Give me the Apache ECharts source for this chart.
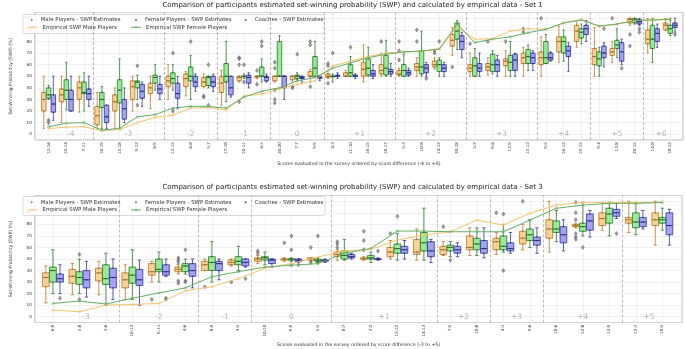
<!DOCTYPE html>
<html>
<head>
<meta charset="utf-8">
<script src="https://cdn.jsdelivr.net/npm/echarts@6/dist/echarts.min.js"></script>
<style>
  html, body { margin: 0; padding: 0; background: #fff; }
  #chart { width: 685px; height: 349px; }
</style>
</head>
<body>
<div id="chart"></div>
<script>
// ---------- Set 1 ----------
const cats1 = ['12:16','10:14','7:11','16:19','15:18','9:12','6:9','13:15','6:8','5:7','17:18','10:11','4:5',
  '20:20','7:7','9:9','4:3','11:10','16:15','18:17','5:3','10:8','14:12','20:18','5:2','9:6','12:9','15:12',
  '9:5','16:12','19:15','9:4','13:8','20:15','14:8','18:12'];
const groups1 = ['-4','-3','-2','-1','0','+1','+2','+3','+4','+5','+6'];
const groupSizes1 = [3,4,3,3,3,4,4,4,3,3,2];

// box statistics: [whisker low, Q1, median, Q3, whisker high]
const male1 = [[5,20,30,36,50],[10,28,34,39,50],[19,30,40,45,50],[4,8,16,24,36],[5,20,28,34,40],[20,30,41,46,50],
  [22,35,40,44,50],[30,41,46,50,60],[33,41,48,52,54],[41,41,45,49,52],[25,36,44,50,55],[45,46,49,50,50],
  [48,49,50,50,50],[45,46,50,50,50],[45,47,50,50,50],[45,50,50,54,56],[48,49,50,52,55],[50,50,50,53,55],
  [45,50,56,62,77],[50,52,55,60,70],[50,51,52,55,57],[50,55,58,61,66],[56,58,60,63,66],[68,76,81,86,92],
  [50,54,57,60,70],[51,55,58,61,66],[50,59,63,65,72],[50,61,66,70,75],[50,60,66,71,84],[62,71,80,84,93],
  [75,80,89,94,98],[50,60,67,74,92],[62,68,71,74,80],[94,96,99,100,100],[70,78,82,90,100],[90,90,94,96,100]];
const maleOut1 = [[],[],[],[],[],[],[],[],[],[32,33],[],[66,65,60,28],[55,43],[62,57,38,30,27],[41,40],[80,77,41],
  [61,59,44],[],[],[80],[80,72,64],[90,80],[72,70],[58],[78],[80],[80],[91,88],[100],[],[],[],[100],[86,76],[],[]];
const female1 = [[30,31,34,40,42],[21,30,38,47,62],[20,35,36,45,53],[5,23,30,36,41],[5,27,38,47,65],[30,40,45,46,51],
  [38,44,49,51,60],[38,44,48,53,60],[30,46,50,58,68],[40,42,49,50,50],[28,45,50,61,80],[48,50,50,50,52],
  [45,50,50,58,65],[50,50,50,80,85],[47,48,50,51,53],[50,50,57,67,80],[45,50,50,50,52],[50,50,53,60,67],
  [50,51,57,65,75],[50,51,57,68,81],[50,50,55,60,69],[50,52,58,72,89],[50,54,60,64,66],[73,82,89,96,98],
  [50,50,59,66,74],[52,54,60,69,72],[50,55,62,68,80],[55,61,67,73,77],[61,61,66,80,86],[63,70,80,84,90],
  [78,83,88,91,95],[50,59,65,71,75],[66,74,77,81,91],[95,96,99,100,100],[62,74,82,94,100],[85,87,91,94,100]];
const femaleOut1 = [[12,10],[],[],[],[],[59,25],[],[70,20],[80],[60,25],[],[60,45],[80,76],[],[69],[],[70],[75],
  [],[],[],[],[80],[],[],[],[],[],[],[],[],[],[],[],[],[]];
const coach1 = [[12,19,26,34,50],[20,20,30,38,50],[24,30,35,39,50],[5,10,15,25,25],[10,13,22,30,40],[24,31,37,43,45],
  [30,35,39,43,50],[22,31,35,44,50],[37,41,45,50,52],[37,41,45,50,52],[32,34,40,50,50],[40,44,49,51,53],
  [45,46,49,50,52],[30,40,50,50,50],[45,48,49,50,50],[46,48,49,50,50],[48,50,50,51,53],[48,50,50,51,52],
  [48,50,52,55,60],[50,52,54,56,61],[50,51,53,55,57],[50,53,57,60,62],[50,54,57,60,62],[66,73,80,85,88],
  [50,54,57,61,70],[50,54,60,64,68],[50,55,64,69,70],[55,61,66,70,72],[63,64,66,70,71],[54,67,72,76,79],
  [80,86,91,94,98],[58,66,70,76,79],[60,63,71,79,82],[94,95,97,99,100],[75,80,87,91,95],[88,92,94,96,100]];
const coachOut1 = [[],[],[],[],[],[],[],[],[],[],[],[],[],[],[],[],[],[],[],[],[],[48],[],[],[],[],[],[],[],[],[],
  [91],[57],[91,88],[],[86]];
const empMale1 = [5,6,6.5,3,4,10,14.5,16.5,22.5,23,21,33,34.5,39,43,46,59,63,67,70,71,71.7,73,93,
  82,82.4,89,91,90.5,96,99,92.8,95,98,99,99];
const empFemale1 = [6.5,9.5,10,3.5,5,15,17,22.5,24,24,22.5,32,37,40,46,49,57,61.5,66,69,71,71.7,73.7,95,
  79,82,84,87.6,90.5,96,98.5,93.4,95,98,98.5,99];

// ---------- Set 3 ----------
const cats3 = ['6:9','5:8','3:6','10:12','9:11','4:6','8:9','4:5','10:10','9:9','5:5','8:7','3:2','13:12','14:13',
  '7:5','10:8','4:1','9:6','10:6','12:8','13:9','12:7','10:5'];
const groups3 = ['-3','-2','-1','0','+1','+2','+3','+4','+5'];
const groupSizes3 = [3,3,2,3,4,2,2,3,2];

const male3 = [[12,26,34,38,44],[19,29,35,41,46],[19,31,38,42,48],[15,25,32,38,45],[30,36,39,46,48],[37,39,41,43,45],
  [40,40,45,48,50],[44,45,47,49,50],[46,48,50,51,53],[48,49,50,50,51],[48,49,50,51,51],[49,52,54,56,58],
  [49,50,50,51,52],[50,52,56,60,66],[49,54,56,67,76],[53,54,58,61,65],[53,58,60,70,77],[54,58,65,68,73],
  [58,63,68,74,80],[56,68,76,84,100],[77,78,79,80,81],[75,79,85,90,99],[73,81,84,86,100],[62,79,84,90,100]];
const maleOut3 = [[],[],[],[],[15],[51,49,47,31,29],[26],[30],[57,55],[64],[60,47],[65,63,60],[74,66,58],[72],[],
  [78],[],[90],[100],[],[99,90,84,72,69,67],[],[],[]];
const female3 = [[20,30,40,43,58],[20,28,34,39,50],[10,28,33,45,55],[15,29,36,43,58],[30,39,41,50,56],[37,39,44,46,50],
  [30,40,47,52,65],[40,45,48,52,61],[45,49,51,52,56],[48,49,50,50,51],[47,48,49,50,51],[49,50,53,57,67],
  [47,50,51,53,56],[49,55,59,63,72],[49,57,64,73,94],[52,57,60,62,65],[53,58,63,68,77],[56,58,61,70,80],
  [60,66,71,76,84],[65,73,76,83,92],[70,74,78,81,99],[70,81,89,94,99],[71,77,82,90,98],[75,81,84,86,94]];
const femaleOut3 = [[],[54,15],[],[],[],[58,31,30],[],[],[],[70,58,45],[70,47],[],[],[87],[],[49],[],[89,40],[],[],
  [60],[],[],[]];
const coach3 = [[20,30,33,37,45],[17,25,32,40,48],[15,25,34,42,50],[10,27,32,41,49],[35,36,39,45,50],[25,35,40,46,50],
  [32,40,46,48,50],[43,44,47,50,50],[43,46,49,50,50],[47,48,49,50,50],[47,48,49,49,50],[50,51,52,54,55],
  [49,50,50,50,51],[50,55,58,61,66],[47,52,57,65,67],[52,55,58,61,64],[51,55,59,66,77],[55,57,59,64,73],
  [55,62,66,69,77],[57,64,71,78,84],[69,75,83,89,92],[85,87,90,93,98],[76,78,82,86,92],[62,71,79,90,93]];
const coachOut3 = [[16],[],[],[],[16,15],[],[],[33],[],[45],[],[],[57],[],[],[],[],[],[],[],[],[72],[],[]];
const empMale3 = [5.8,4.3,10,10.6,11.5,22.5,26,33,42,46,51.6,57,58.4,66.4,70.7,73.6,83.7,79.4,89.6,96.7,99,99,99,99];
const empFemale3 = [11.5,13.6,11,16,20.6,25,34.6,39,43,44.6,46,55,59.2,74.2,74.2,73.6,73.6,73.6,83.7,93.9,96.7,98.2,98.2,99];

// ---------- styling ----------
const FONT = 'DejaVu Sans';
const NAMES = {
  male: 'Male Players - SWP Estimates',
  female: 'Female Players - SWP Estimates',
  coach: 'Coaches - SWP Estimates',
  empMale: 'Empirical SWP Male Players',
  empFemale: 'Empirical SWP Female Players'
};
const STYLE = {
  male:   { fill: '#f9d096', edge: '#b97a2a', dot: '#8a5a18' },
  female: { fill: '#96ec96', edge: '#2e7a2e', dot: '#1d5a1d' },
  coach:  { fill: '#a3a3f3', edge: '#33339a', dot: '#20206e' }
};
const LINE_MALE = '#f3c466';
const LINE_FEMALE = '#62ad62';
const HUE_STEP = 0.267;   // dodge between hue levels (category units)
const BOX_W = 0.255;      // box width (category units)
const CROSS = 'path://M0,0L10,10M10,0L0,10';

function boxSeries(gi, stats, off, st) {
  return {
    type: 'custom', xAxisIndex: gi, yAxisIndex: gi, z: 2, silent: true,
    data: stats.map((s, i) => [i].concat(s)),
    encode: { x: 0, y: [1, 2, 3, 4, 5] },
    renderItem(params, api) {
      const x = api.value(0) + off;
      const lo = api.coord([x, api.value(1)]);
      const q1 = api.coord([x, api.value(2)]);
      const md = api.coord([x, api.value(3)]);
      const q3 = api.coord([x, api.value(4)]);
      const hi = api.coord([x, api.value(5)]);
      const w = api.size([BOX_W, 0])[0];
      const cx = md[0];
      const ls = { stroke: st.edge, lineWidth: 0.8 };
      return {
        type: 'group',
        children: [
          { type: 'line', shape: { x1: cx, y1: hi[1], x2: cx, y2: q3[1] }, style: ls },
          { type: 'line', shape: { x1: cx, y1: q1[1], x2: cx, y2: lo[1] }, style: ls },
          { type: 'line', shape: { x1: cx - w / 4, y1: hi[1], x2: cx + w / 4, y2: hi[1] }, style: ls },
          { type: 'line', shape: { x1: cx - w / 4, y1: lo[1], x2: cx + w / 4, y2: lo[1] }, style: ls },
          { type: 'rect', shape: { x: cx - w / 2, y: q3[1], width: w, height: Math.max(q1[1] - q3[1], 0.6) },
            style: { fill: st.fill, stroke: st.edge, lineWidth: 0.8 } },
          { type: 'line', shape: { x1: cx - w / 2, y1: md[1], x2: cx + w / 2, y2: md[1] },
            style: { stroke: st.edge, lineWidth: 1.1 } }
        ]
      };
    }
  };
}

function outlierSeries(gi, outs, off) {
  const pts = [];
  outs.forEach((arr, i) => arr.forEach(v => pts.push([i + off, v])));
  return {
    type: 'scatter', xAxisIndex: gi, yAxisIndex: gi, z: 3, silent: true,
    symbol: 'diamond', symbolSize: [3, 4], data: pts,
    itemStyle: { color: '#8a8a8a', borderColor: '#3a3a3a', borderWidth: 0.5 }
  };
}

function dotSeries(gi, stats, off, st, name) {
  const pts = [];
  stats.forEach((s, i) => [s[1], s[2], s[3]].forEach(v => pts.push([i + off, v])));
  return {
    type: 'scatter', name, xAxisIndex: gi, yAxisIndex: gi, z: 4, silent: true,
    symbol: 'circle', symbolSize: 1.4, data: pts,
    itemStyle: { color: st.dot }
  };
}

function empSeries(gi, vals, name, color) {
  return {
    type: 'line', name, xAxisIndex: gi, yAxisIndex: gi, z: 5, silent: true,
    data: vals.map((v, i) => [i, v]),
    symbol: CROSS, symbolSize: 2.6, showSymbol: true,
    lineStyle: { color, width: 1 },
    itemStyle: { color, borderColor: color, borderWidth: 0.7 }
  };
}

function groupSeries(gi, groups, sizes, n) {
  const seps = [];
  let acc = 0;
  sizes.forEach(s => { acc += s; seps.push(acc - 0.5); });
  const bounds = [0].concat(seps.slice(0, -1), [n - 0.5]);
  const data = groups.map((g, k) => ({ name: g, value: [(bounds[k] + bounds[k + 1]) / 2, 0] }));
  return {
    type: 'scatter', xAxisIndex: gi, yAxisIndex: gi, z: 1, silent: true,
    symbolSize: 0, data,
    label: { show: true, position: 'inside', formatter: p => p.name,
      fontFamily: FONT, fontSize: 7.5, color: '#a0a0a0' },
    markLine: {
      silent: true, symbol: 'none', label: { show: false },
      lineStyle: { type: [3, 2], color: '#a8a8a8', width: 0.8 },
      data: seps.slice(0, -1).map(s => ({ xAxis: s }))
    }
  };
}

function xAxisFor(gi, cats, min, max, name, gap) {
  return {
    type: 'value', gridIndex: gi, min, max, splitNumber: cats.length,
    axisLine: { show: false }, axisTick: { show: false },
    axisLabel: {
      rotate: 90, fontFamily: FONT, fontSize: 4.2, color: '#333', margin: 2,
      showMinLabel: false, showMaxLabel: false,
      formatter: v => {
        const r = Math.round(v);
        return (Math.abs(v - r) < 1e-6 && cats[r] !== undefined) ? cats[r] : '';
      }
    },
    splitLine: { show: true, lineStyle: { color: '#e8e8e8', width: 0.6 } },
    name, nameLocation: 'middle', nameGap: gap,
    nameTextStyle: { fontFamily: FONT, fontSize: 4.7, color: '#333' }
  };
}

function yAxisFor(gi) {
  return {
    type: 'value', gridIndex: gi, min: -5, max: 105, splitNumber: 11,
    axisLine: { show: false }, axisTick: { show: false },
    axisLabel: { fontFamily: FONT, fontSize: 4.2, color: '#333', margin: 3,
      showMinLabel: false, showMaxLabel: false },
    splitLine: { show: true, lineStyle: { color: '#e8e8e8', width: 0.6 } },
    name: 'Set-Winning Probability (SWP) (%)', nameLocation: 'middle', nameGap: 14, nameRotate: 90,
    nameTextStyle: { fontFamily: FONT, fontSize: 4.5, color: '#333' }
  };
}

function legendItem(name, left, rowCenter, w, h, pad) {
  return {
    data: [name], left, top: rowCenter - 3, padding: 0, itemGap: 0,
    itemWidth: w, itemHeight: h, selectedMode: false, z: 6,
    lineStyle: { width: 1 },
    itemStyle: { borderWidth: 0.6 },
    textStyle: { fontFamily: FONT, fontSize: 5.4, color: '#333', lineHeight: 6, padding: [0, 0, 0, pad] }
  };
}

function legendsAt(r1, r2) {
  return [
    legendItem(NAMES.male, 30.7, r1, 2, 2, 3),
    legendItem(NAMES.female, 135, r1, 2, 2, 3),
    legendItem(NAMES.coach, 244.7, r1, 2, 2, 3),
    legendItem(NAMES.empMale, 27, r2, 10, 3, 0),
    legendItem(NAMES.empFemale, 130.5, r2, 10, 3, 0)
  ];
}

const panels = [
  { cats: cats1, groups: groups1, sizes: groupSizes1, male: male1, female: female1, coach: coach1,
    maleOut: maleOut1, femaleOut: femaleOut1, coachOut: coachOut1, empM: empMale1, empF: empFemale1 },
  { cats: cats3, groups: groups3, sizes: groupSizes3, male: male3, female: female3, coach: coach3,
    maleOut: maleOut3, femaleOut: femaleOut3, coachOut: coachOut3, empM: empMale3, empF: empFemale3 }
];

const series = [];
panels.forEach((p, gi) => {
  series.push(groupSeries(gi, p.groups, p.sizes, p.cats.length));
  series.push(boxSeries(gi, p.male, -HUE_STEP, STYLE.male));
  series.push(boxSeries(gi, p.female, 0, STYLE.female));
  series.push(boxSeries(gi, p.coach, HUE_STEP, STYLE.coach));
  series.push(outlierSeries(gi, p.maleOut, -HUE_STEP));
  series.push(outlierSeries(gi, p.femaleOut, 0));
  series.push(outlierSeries(gi, p.coachOut, HUE_STEP));
  series.push(dotSeries(gi, p.male, -HUE_STEP, STYLE.male, NAMES.male));
  series.push(dotSeries(gi, p.female, 0, STYLE.female, NAMES.female));
  series.push(dotSeries(gi, p.coach, HUE_STEP, STYLE.coach, NAMES.coach));
  series.push(empSeries(gi, p.empM, NAMES.empMale, LINE_MALE));
  series.push(empSeries(gi, p.empF, NAMES.empFemale, LINE_FEMALE));
});

const titleBase = 'Comparison of participants estimated set-winning probability (SWP) and calculated by empirical data - ';

const option = {
  backgroundColor: '#fff',
  animation: false,
  title: [
    { text: titleBase + 'Set 1', left: 352.5, textAlign: 'center', top: 1.2, padding: 0,
      textStyle: { fontFamily: FONT, fontSize: 7, fontWeight: 'normal', color: '#222' } },
    { text: titleBase + 'Set 3', left: 352.5, textAlign: 'center', top: 183.5, padding: 0,
      textStyle: { fontFamily: FONT, fontSize: 7, fontWeight: 'normal', color: '#222' } }
  ],
  grid: [
    { left: 21, top: 12.5, width: 662, height: 127.5, show: true, borderColor: '#a0a0a0', borderWidth: 0.8 },
    { left: 21.6, top: 195.5, width: 660.6, height: 127, show: true, borderColor: '#a0a0a0', borderWidth: 0.8 }
  ],
  xAxis: [
    xAxisFor(0, cats1, -0.77, 35.72, 'Scores evaluated in the survey ordered by score difference (-4 to +6)', 21.5),
    xAxisFor(1, cats3, -0.68, 23.75, 'Scores evaluated in the survey ordered by score difference (-3 to +5)', 19.5)
  ],
  yAxis: [yAxisFor(0), yAxisFor(1)],
  legend: legendsAt(20, 27.3).concat(legendsAt(202.3, 210)),
  graphic: [
    { type: 'rect', z: 5, silent: true, shape: { x: 23, y: 14.5, width: 301, height: 19, r: 2 },
      style: { fill: 'rgba(255,255,255,0.85)', stroke: '#d0d0d0', lineWidth: 0.8 } },
    { type: 'rect', z: 5, silent: true, shape: { x: 23, y: 196.5, width: 302, height: 19, r: 2 },
      style: { fill: 'rgba(255,255,255,0.85)', stroke: '#d0d0d0', lineWidth: 0.8 } }
  ],
  series
};

const chart = echarts.init(document.getElementById('chart'), null, { renderer: 'canvas' });
chart.setOption(option);
</script>
</body>
</html>
